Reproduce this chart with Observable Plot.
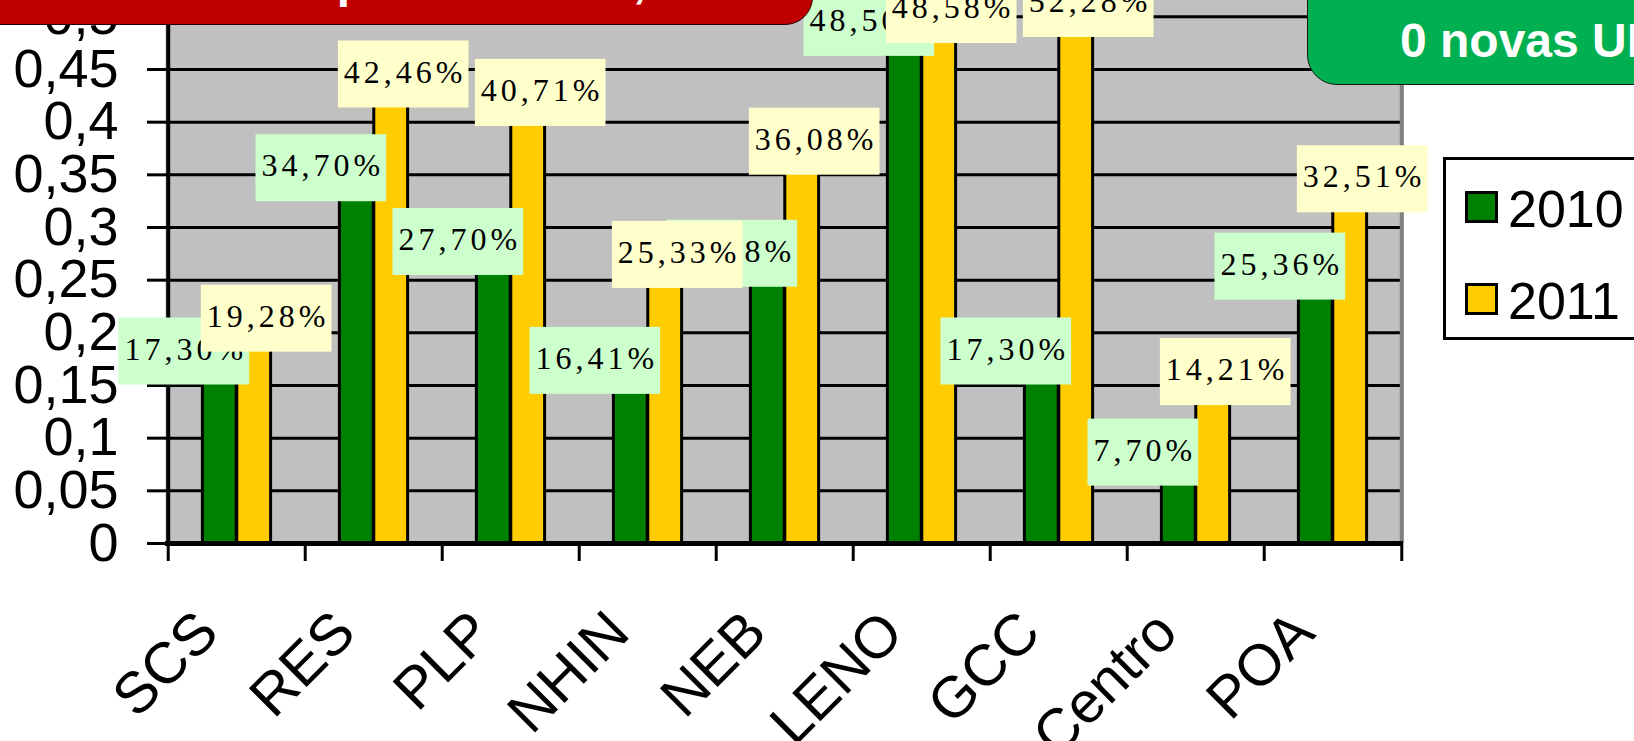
<!DOCTYPE html>
<html>
<head>
<meta charset="utf-8">
<script src="https://cdn.jsdelivr.net/npm/d3@7"></script>
<script src="https://cdn.jsdelivr.net/npm/@observablehq/plot@0.6"></script>
<style>
  html, body { margin: 0; padding: 0; background: #fff; }
  body { width: 1634px; height: 741px; overflow: hidden; position: relative; font-family: "Liberation Sans", Arial, sans-serif; }
  #chart { position: absolute; left: 0; top: -100px; }
  .lbl text { letter-spacing: 4px; }
  #redBanner { position: absolute; left: -20px; top: -80px; width: 833px; height: 105px; background: #C00000; border: 1.5px solid #2a0000; border-bottom-right-radius: 28px; box-sizing: border-box; overflow: hidden; }
  #redBanner span { position: absolute; left: 113px; top: 36px; font: bold 48px "Liberation Sans", Arial, sans-serif; color: #fff; line-height: 48px; white-space: nowrap; }
  #greenBanner { position: absolute; left: 1307px; top: -60px; width: 400px; height: 145px; background: #00B050; border: 1.5px solid #1a1a1a; border-bottom-left-radius: 30px; box-sizing: border-box; overflow: hidden; }
  #greenBanner span { position: absolute; left: 92px; top: 76px; font: bold 48px "Liberation Sans", Arial, sans-serif; color: #fff; line-height: 48px; white-space: nowrap; }
  #legend { position: absolute; left: 1443px; top: 157px; width: 260px; height: 183px; border: 3px solid #000; background: #fff; box-sizing: border-box; }
  .sw { position: absolute; left: 19px; width: 33px; height: 32px; border: 3px solid #000; box-sizing: border-box; }
  .lt { position: absolute; left: 62px; font-size: 52px; line-height: 52px; color: #000; white-space: nowrap; }
</style>
</head>
<body>
<div id="chart"></div>
<div id="redBanner"><span>Cobertura por Gerência, 2010 e 2011</span></div>
<div id="greenBanner"><span>0 novas UBS</span></div>
<div id="legend"></div>
<script>
// ---- data ----
const categories = ["SCS", "RES", "PLP", "NHIN", "NEB", "LENO", "GCC", "Centro", "POA"];
const values2010 = [0.1730, 0.3470, 0.2770, 0.1641, 0.2658, 0.4850, 0.1730, 0.0770, 0.2536];
const values2011 = [0.1928, 0.4246, 0.4071, 0.2533, 0.3608, 0.4858, 0.5228, 0.1421, 0.3251];
const seriesNames = ["2010", "2011"];
const seriesColors = ["#008000", "#FFCC00"];
const labelBgColors = ["#CCFFCC", "#FFFFCC"];
const yTicks = [0, 0.05, 0.1, 0.15, 0.2, 0.25, 0.3, 0.35, 0.4, 0.45, 0.5];
const yTickLabels = ["0", "0,05", "0,1", "0,15", "0,2", "0,25", "0,3", "0,35", "0,4", "0,45", "0,5"];
const gridValues = [0.05, 0.1, 0.15, 0.2, 0.25, 0.3, 0.35, 0.4, 0.45, 0.5, 0.55, 0.6];

// ---- layout ----
const W = 1634, H = 841, mL = 165, mR = 231, mT = 11, mB = 198;
const band = (W - mL - mR) / categories.length;
const fmt = v => (v * 100).toFixed(2).replace(".", ",") + "%";
const sans = "Liberation Sans, Arial, sans-serif";
const serif = "Liberation Serif, Times New Roman, serif";
const chartAreaTop = -30; // page y above which data labels are pushed back inside

const rows = [values2010, values2011].map(vals => categories.map((c, i) => ({cat: c, v: vals[i]})));

const chart = Plot.plot({
  width: W, height: H,
  marginLeft: mL, marginRight: mR, marginTop: mT, marginBottom: mB,
  style: {background: "transparent"},
  x: {domain: categories, padding: 0, axis: null},
  y: {domain: [0, 0.6], axis: null},
  marks: [
    Plot.frame({fill: "#C0C0C0", stroke: null}),
    Plot.ruleY(gridValues, {stroke: "#000", strokeWidth: 3}),
    Plot.barY(rows[0], {x: "cat", y: "v", fill: seriesColors[0], stroke: "#000", strokeWidth: 3, insetLeft: band / 4, insetRight: band / 2}),
    Plot.barY(rows[1], {x: "cat", y: "v", fill: seriesColors[1], stroke: "#000", strokeWidth: 3, insetLeft: band / 2, insetRight: band / 4}),
    Plot.ruleX([categories[categories.length - 1]], {dx: band / 2, stroke: "#808080", strokeWidth: 4}),
    Plot.ruleX([categories[0]], {dx: -band / 2, stroke: "#000", strokeWidth: 4}),
    Plot.ruleY([0], {stroke: "#000", strokeWidth: 5}),
    Plot.ruleX(categories, {x: d => d, y1: 0, y2: 0, insetBottom: -18, dx: -band / 2, stroke: "#000", strokeWidth: 3}),
    Plot.ruleX([categories[categories.length - 1]], {x: d => d, y1: 0, y2: 0, insetBottom: -18, dx: band / 2, stroke: "#000", strokeWidth: 3}),
    Plot.axisY({ticks: yTicks, tickFormat: d => yTickLabels[yTicks.indexOf(d)], tickSize: 18, tickPadding: 29,
      fontSize: 54, fontFamily: sans, stroke: "#000", fill: "#000", strokeWidth: 3}),
    Plot.text(categories, {x: d => d, frameAnchor: "bottom", dx: -16, dy: 92, rotate: -45, textAnchor: "end", lineAnchor: "bottom",
      fontSize: 58, fontFamily: sans, fill: "#000"}),
    Plot.text(rows[0], {x: "cat", y: "v", text: d => fmt(d.v), dx: -band / 8 - 34, dy: -12, fontSize: 32, fontFamily: serif,
      fill: "#000", textAnchor: "middle", lineAnchor: "middle", className: "lbl lbl0"}),
    Plot.text(rows[1], {x: "cat", y: "v", text: d => fmt(d.v), dx: band / 8 + 14, dy: -24, fontSize: 32, fontFamily: serif,
      fill: "#000", textAnchor: "middle", lineAnchor: "middle", className: "lbl lbl1"})
  ]
});
document.getElementById("chart").appendChild(chart);

// label background boxes (kept inside the chart area like the spreadsheet does)
const NS = "http://www.w3.org/2000/svg";
[0, 1].forEach(s => {
  chart.querySelectorAll(`g.lbl${s} text`).forEach(t => {
    const b = t.getBBox();
    const wrap = document.createElementNS(NS, "g");
    const r = document.createElementNS(NS, "rect");
    r.setAttribute("x", b.x - 6);
    r.setAttribute("y", b.y - 13);
    r.setAttribute("width", b.width + 8);
    r.setAttribute("height", b.height + 31);
    r.setAttribute("fill", labelBgColors[s]);
    if (t.getAttribute("transform")) r.setAttribute("transform", t.getAttribute("transform"));
    t.parentNode.insertBefore(wrap, t);
    wrap.appendChild(r);
    wrap.appendChild(t);
    const top = r.getBoundingClientRect().top;
    if (top < chartAreaTop) wrap.setAttribute("transform", `translate(0,${chartAreaTop - top})`);
  });
});

// legend
const legend = document.getElementById("legend");
seriesNames.forEach((name, i) => {
  const sw = document.createElement("div");
  sw.className = "sw";
  sw.style.top = (31 + i * 92) + "px";
  sw.style.background = seriesColors[i];
  legend.appendChild(sw);
  const lt = document.createElement("div");
  lt.className = "lt";
  lt.style.top = (23 + i * 92) + "px";
  lt.textContent = name;
  legend.appendChild(lt);
});
</script>
</body>
</html>
